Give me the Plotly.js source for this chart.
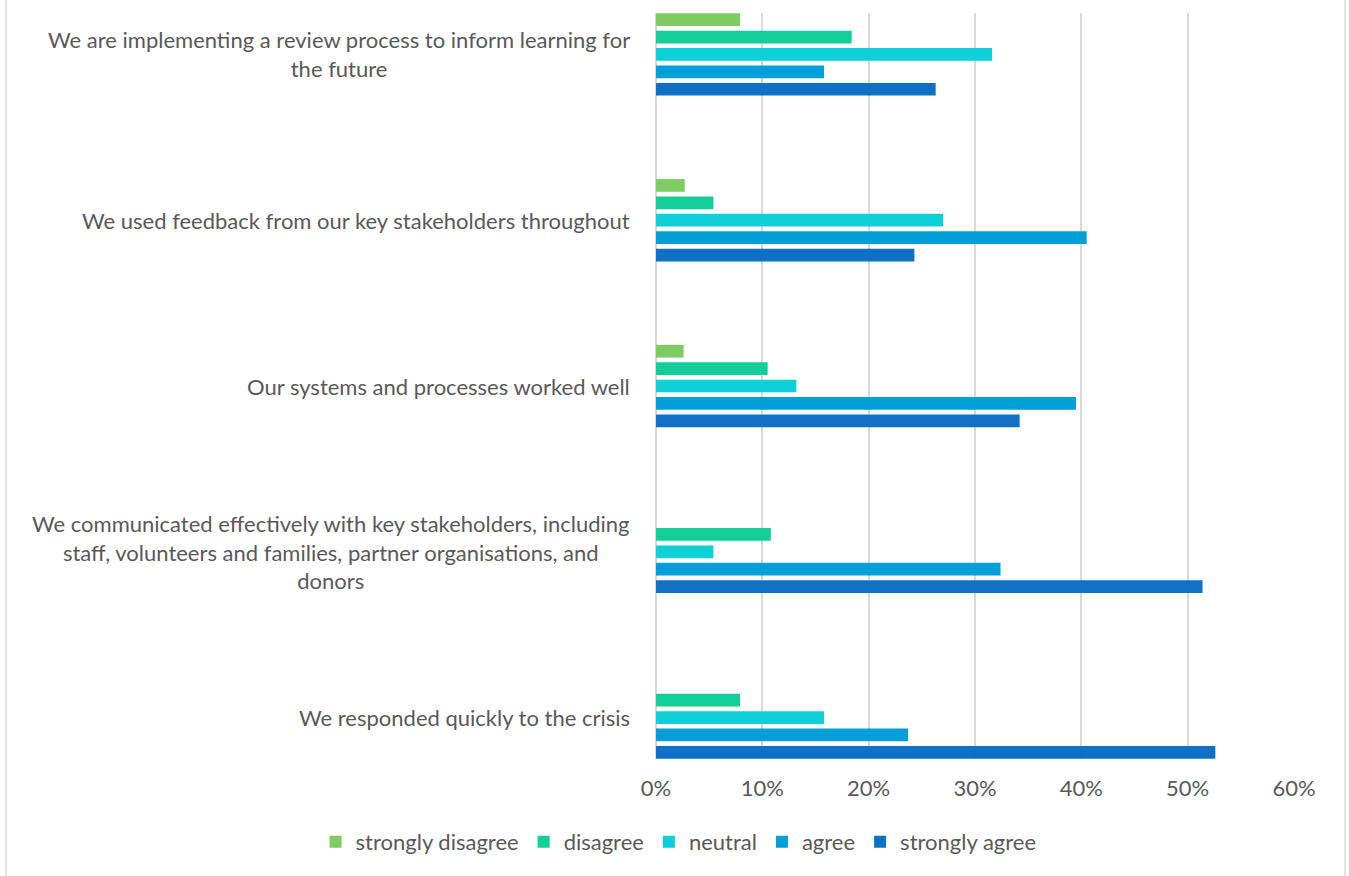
<!DOCTYPE html>
<html>
<head>
<meta charset="utf-8">
<script src="https://cdn.plot.ly/plotly-3.0.1.min.js"></script>
<style>
html,body{margin:0;padding:0;background:#fff;}
#chart{width:1349px;height:876px;}
</style>
</head>
<body>
<div id="chart"></div>
<script>
// Categories, top to bottom
const categories = [
  "We are implementing a review process to inform learning for<br>the future",
  "We used feedback from our key stakeholders throughout",
  "Our systems and processes worked well",
  "We communicated effectively with key stakeholders, including<br>staff, volunteers and families, partner organisations, and<br>donors",
  "We responded quickly to the crisis"
];
const seriesNames = ["strongly disagree", "disagree", "neutral", "agree", "strongly agree"];
const stronglyDisagree = [0.079, 0.027, 0.026, 0, 0];
const disagree         = [0.184, 0.054, 0.105, 0.108, 0.079];
const neutral          = [0.316, 0.270, 0.132, 0.054, 0.158];
const agree            = [0.158, 0.405, 0.395, 0.324, 0.237];
const stronglyAgree    = [0.263, 0.243, 0.342, 0.514, 0.526];
const xTickVals  = [0, 0.1, 0.2, 0.3, 0.4, 0.5, 0.6];
const xTickText  = ["0%", "10%", "20%", "30%", "40%", "50%", "60%"];

const colors = ["#7ECC63", "#13CE99", "#0DD0D9", "#009FD8", "#0F70C6"];
const seriesValues = [stronglyDisagree, disagree, neutral, agree, stronglyAgree];

const FONT = "Lato, 'Open Sans', sans-serif";
const TXT = "#595959";
const W = 1349;

const traces = seriesValues.map((vals, i) => ({
  type: "bar",
  orientation: "h",
  name: seriesNames[i],
  x: vals,
  y: categories,
  marker: {color: colors[i]},
  hoverinfo: "x+name"
}));

const annotations = categories.map(c => ({
  xref: "paper", yref: "y",
  x: 632 / W, y: c,
  xanchor: "right", yanchor: "middle",
  align: "center",
  text: c,
  showarrow: false,
  font: {family: FONT, size: 22, color: TXT}
}));

const layout = {
  width: W, height: 876,
  margin: {l: 0, r: 0, t: 13, b: 117, pad: 0},
  paper_bgcolor: "#fff", plot_bgcolor: "#fff",
  barmode: "group",
  bargap: 0.475,
  bargroupgap: 0.27,
  font: {family: FONT, size: 22, color: TXT},
  xaxis: {
    domain: [656 / W, 1294 / W],
    range: [0, 0.6],
    tickvals: xTickVals,
    ticktext: xTickText,
    showgrid: true,
    gridcolor: "#D9D9D9",
    gridwidth: 1.5,
    zeroline: true,
    zerolinecolor: "#D9D9D9",
    zerolinewidth: 1.5,
    showline: false,
    ticks: "",
    ticklabelstandoff: 14,
    tickfont: {family: FONT, size: 22, color: TXT},
    fixedrange: true
  },
  yaxis: {
    type: "category",
    categoryorder: "array",
    categoryarray: categories,
    range: [4.25, -0.25],
    anchor: "x",
    showticklabels: false,
    showgrid: false,
    zeroline: false,
    showline: false,
    ticks: "",
    fixedrange: true
  },
  showlegend: true,
  legend: {
    orientation: "h",
    xref: "container", yref: "container",
    x: 0.503, xanchor: "center",
    y: 34 / 876, yanchor: "middle",
    font: {family: FONT, size: 22, color: TXT},
    itemclick: false, itemdoubleclick: false,
    traceorder: "normal"
  },
  annotations: annotations,
  shapes: [
    {type: "line", xref: "paper", yref: "paper", x0: 6 / W, x1: 6 / W, y0: -0.2, y1: 1.05, line: {color: "#D9D9D9", width: 1.5}},
    {type: "line", xref: "paper", yref: "paper", x0: 1345 / W, x1: 1345 / W, y0: -0.2, y1: 1.05, line: {color: "#D9D9D9", width: 1.5}}
  ]
};

Plotly.newPlot("chart", traces, layout, {displayModeBar: false});
</script>
</body>
</html>
